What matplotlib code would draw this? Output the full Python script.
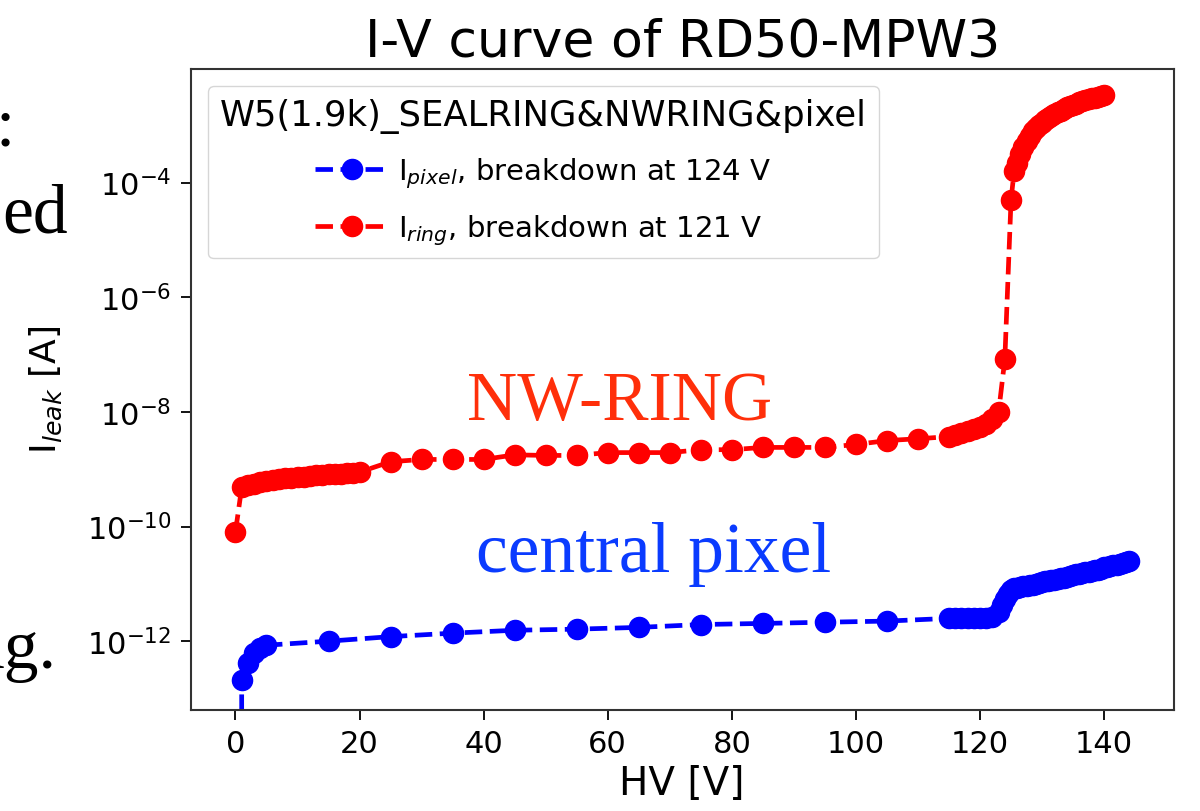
import numpy as np
import matplotlib
matplotlib.use('Agg')
import matplotlib.pyplot as plt

# ring current (red)
v_ring = [0, 1, 2, 3, 4, 5, 6, 7, 8, 9, 10, 11, 12, 13, 14, 15, 16, 17, 18, 19, 20,
          25, 30, 35, 40, 45, 50, 55, 60, 65, 70, 75, 80, 85, 90, 95, 100, 105, 110,
          115, 116, 117, 118, 119, 120, 121, 122, 123, 124, 125,
          125.5, 126, 126.5, 127, 127.5, 128, 128.5, 129, 129.5, 130, 130.5, 131, 131.5,
          132, 132.5, 133, 133.5, 134, 134.5, 135, 135.5, 136, 136.5, 137, 137.5, 138,
          138.5, 139, 139.5, 140]
i_ring = [8.1e-11, 4.8e-10, 5.2e-10, 5.6e-10, 5.9e-10, 6.2e-10, 6.5e-10, 6.8e-10, 6.9e-10,
          7.1e-10, 7.2e-10, 7.4e-10, 7.6e-10, 7.8e-10, 7.9e-10, 8.1e-10, 8.3e-10, 8.3e-10,
          8.5e-10, 8.7e-10, 8.9e-10,
          1.35e-9, 1.48e-9, 1.48e-9, 1.48e-9, 1.78e-9, 1.74e-9, 1.74e-9, 1.95e-9, 1.95e-9,
          1.95e-9, 2.19e-9, 2.19e-9, 2.4e-9, 2.4e-9, 2.4e-9, 2.7e-9, 3.16e-9, 3.4e-9,
          3.7e-9, 4.0e-9, 4.3e-9, 4.6e-9, 5.0e-9, 5.5e-9, 6.2e-9, 7.4e-9, 1.0e-8, 8.3e-8, 5.0e-5,
          1.6e-4, 2.2e-4, 3.2e-4, 4.2e-4, 5.4e-4, 6.6e-4, 7.8e-4, 8.9e-4, 1.0e-3, 1.1e-3,
          1.22e-3, 1.35e-3, 1.48e-3, 1.6e-3, 1.7e-3, 1.8e-3, 1.92e-3, 2.05e-3, 2.18e-3,
          2.3e-3, 2.4e-3, 2.5e-3, 2.62e-3, 2.75e-3, 2.85e-3, 2.95e-3, 3.05e-3, 3.15e-3,
          3.28e-3, 3.4e-3]

# central pixel current (blue)
v_pixel = [0, 1, 2, 3, 4, 5, 15, 25, 35, 45, 55, 65, 75, 85, 95, 105,
           115, 116, 117, 118, 119, 120, 121, 122, 123, 123.5, 124, 124.5, 125, 125.5,
           126, 126.5, 127, 127.5, 128, 128.5, 129, 129.5, 130, 130.5, 131, 131.5, 132,
           132.5, 133, 133.5, 134, 134.5, 135, 135.5, 136, 136.5, 137, 137.5, 138, 138.5,
           139, 139.5, 140, 140.5, 141, 141.5, 142, 142.5, 143, 143.5, 144]
i_pixel = [0.0, 2.1e-13, 4.2e-13, 6.3e-13, 7.6e-13, 8.5e-13, 1.0e-12, 1.2e-12, 1.38e-12,
           1.55e-12, 1.62e-12, 1.74e-12, 1.95e-12, 2.04e-12, 2.14e-12, 2.24e-12,
           2.5e-12, 2.5e-12, 2.52e-12, 2.52e-12, 2.54e-12, 2.55e-12, 2.56e-12, 2.6e-12,
           3.2e-12, 4.2e-12, 5.5e-12, 6.7e-12, 7.8e-12, 8.3e-12,
           8.6e-12, 8.8e-12, 9.0e-12, 9.2e-12, 9.4e-12, 9.6e-12, 9.8e-12, 1.02e-11, 1.07e-11,
           1.1e-11, 1.12e-11, 1.15e-11, 1.19e-11, 1.22e-11, 1.25e-11, 1.28e-11, 1.32e-11,
           1.38e-11, 1.45e-11, 1.47e-11, 1.5e-11, 1.54e-11, 1.58e-11, 1.62e-11, 1.67e-11,
           1.71e-11, 1.76e-11, 1.85e-11, 1.95e-11, 2.0e-11, 2.05e-11, 2.1e-11, 2.17e-11,
           2.23e-11, 2.3e-11, 2.4e-11, 2.5e-11]

fig = plt.figure(figsize=(12, 8.12), dpi=100)
ax = fig.add_axes([0.159, 0.1244, 0.819, 0.7894])

ax.plot(v_pixel, i_pixel, '--o', color='blue', lw=3.4, ms=14.5,
        label=r'I$_{pixel}$, breakdown at 124 V')
ax.plot(v_ring, i_ring, '--o', color='red', lw=3.4, ms=14.5,
        label=r'I$_{ring}$, breakdown at 121 V')

ax.set_yscale('log')
ax.set_ylim(6.3e-14, 1.0e-2 * 0.96)
ax.set_yticks([1e-12, 1e-10, 1e-8, 1e-6, 1e-4])
ax.yaxis.set_minor_locator(matplotlib.ticker.NullLocator())

ax.tick_params(labelsize=22, length=7, width=1.3, pad=7)
for s in ax.spines.values():
    s.set_linewidth(1.5)
    s.set_color('#333333')

ax.set_title('I-V curve of RD50-MPW3', fontsize=37.5, pad=10)
ax.set_xlabel('HV [V]', fontsize=28, labelpad=4)
ax.set_ylabel(r'I$_{leak}$ [A]', fontsize=26, labelpad=16)

leg = ax.legend(title='W5(1.9k)_SEALRING&NWRING&pixel', loc='upper left',
                fontsize=21, title_fontsize=25.5, handlelength=2.5,
                handletextpad=0.35, labelspacing=0.76, borderaxespad=0.6)

serif = 'Liberation Serif'
fig.text(0.516, 0.483, 'NW-RING', color='#ff2f0a', fontsize=50,
         family=serif, ha='center', va='baseline')
fig.text(0.545, 0.296, 'central pixel', color='#0a3bff', fontsize=51.5,
         family=serif, ha='center', va='baseline')

# cut-off slide text on the left
fig.text(0.0125, 0.8214, ':', fontsize=50, family=serif, ha='right', va='baseline')
fig.text(0.0567, 0.714, 'ed', fontsize=50, family=serif, ha='right', va='baseline')
fig.text(0.047, 0.177, 'ng.', fontsize=50, family=serif, ha='right', va='baseline')

fig.savefig('out.png', dpi=100)
